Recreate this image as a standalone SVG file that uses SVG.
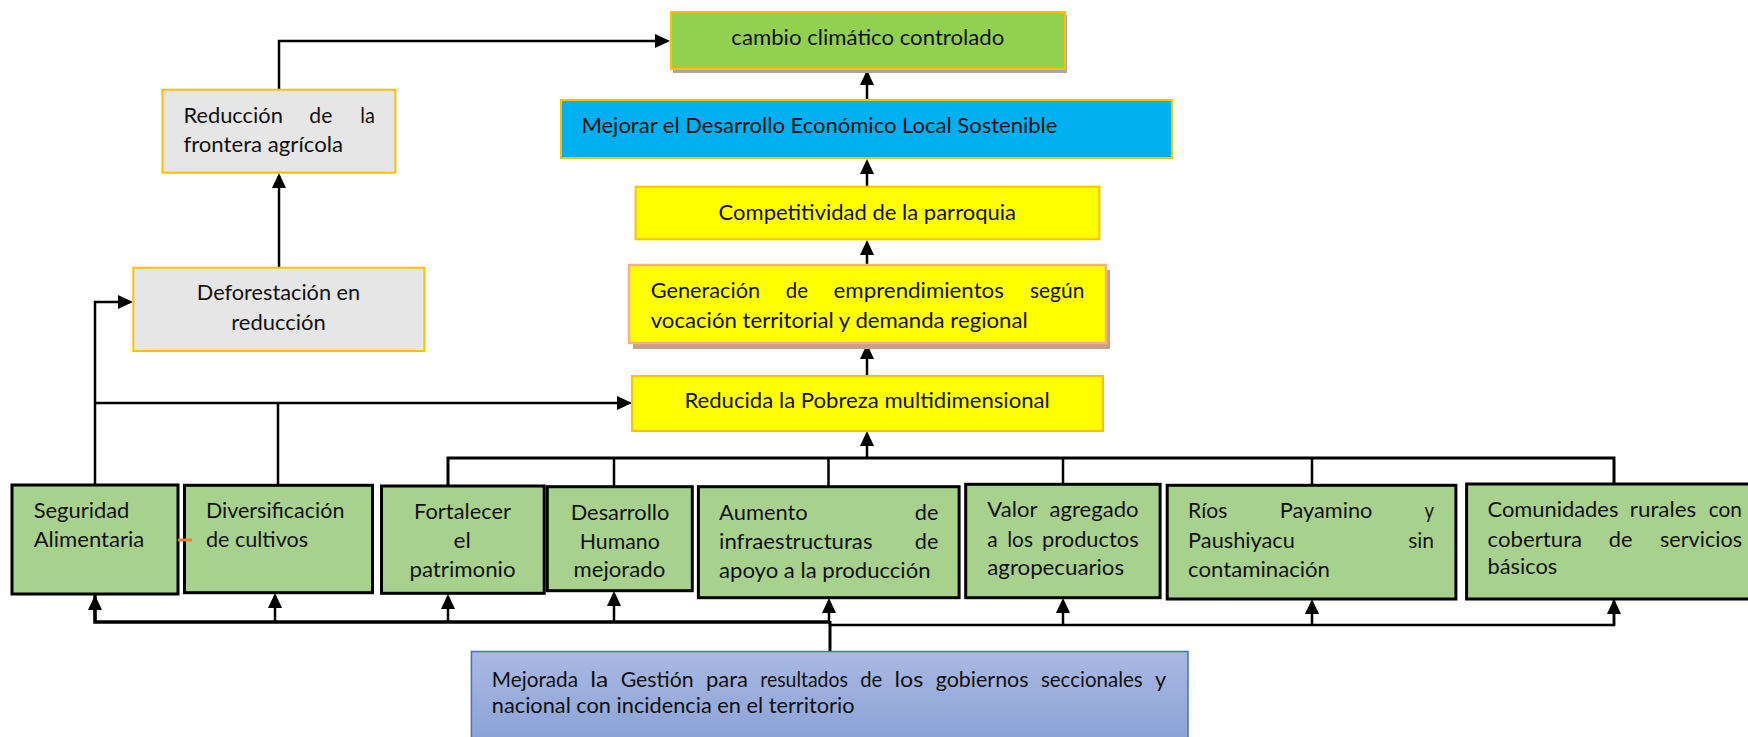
<svg xmlns="http://www.w3.org/2000/svg" width="1748" height="737" viewBox="0 0 1748 737">
<defs>
<marker id="ah" viewBox="0 0 15 14" refX="12" refY="7" markerWidth="15" markerHeight="14" markerUnits="userSpaceOnUse" orient="auto">
<path d="M0,0 L15,7 L0,14 z" fill="#000"/>
</marker>
<linearGradient id="blueg" x1="0" y1="0" x2="0" y2="1">
<stop offset="0" stop-color="#a9b9e2"/>
<stop offset="1" stop-color="#8ba2d6"/>
</linearGradient>
<style>
text{font-family:Lato,"Liberation Sans",sans-serif;font-size:22px;fill:#111;}
.gold{stroke:#ffc000;stroke-width:2;}
.grey{fill:#e7e6e6;}
.yel{fill:#ffff00;}
.grn{fill:#a9d18e;stroke:#000;stroke-width:3;}
.c{fill:none;stroke:#000;stroke-width:2.5;}
.ca{fill:none;stroke:#000;stroke-width:2.5;marker-end:url(#ah);}
</style>
</defs>
<rect width="1748" height="737" fill="#fff"/>

<g id="connectors">
<path class="ca" d="M279,90 V41 H667"/>
<path class="ca" d="M279,268 V176"/>
<path class="ca" d="M95,485 V302 H130"/>
<path class="ca" d="M95,403 H629"/>
<path class="c" d="M278,485 V403"/>
<path class="ca" d="M867,100 V73"/>
<path class="ca" d="M867,187 V162"/>
<path class="ca" d="M867,265 V243"/>
<path class="ca" d="M867,376 V347"/>
<path class="c" style="stroke-width:3" d="M448,486 V458 H1614 V484"/>
<path class="c" d="M614,458 V487"/>
<path class="c" d="M828.5,458 V487"/>
<path class="c" d="M1063,458 V484"/>
<path class="c" d="M1312,458 V485"/>
<path class="ca" d="M867,458 V434"/>
<path class="c" style="stroke-width:3.5" d="M95,595 V622 H830"/>
<path class="c" d="M830,625 H1614 V600"/>
<path class="c" style="stroke-width:3" d="M830,652 V621"/>
<path class="ca" d="M95,622 V598"/>
<path class="ca" d="M275,622 V596"/>
<path class="ca" d="M448,622 V597"/>
<path class="ca" d="M614,622 V594"/>
<path class="ca" d="M829,622 V601"/>
<path class="ca" d="M1063,625 V601"/>
<path class="ca" d="M1312,625 V602"/>
<path class="ca" d="M1614,625 V602"/>
</g>

<g id="cambio">
<rect x="673" y="15" width="394" height="58" fill="#a6a6a6"/>
<rect x="671" y="12" width="394" height="57" fill="#92d050" class="gold"/>
<text x="731.3" y="45" textLength="273" lengthAdjust="spacingAndGlyphs">cambio climático controlado</text>
</g>

<g id="mejorar">
<rect x="561" y="100" width="611" height="58" fill="#00b0f0" class="gold"/>
<text x="581.4" y="133.3" textLength="476" lengthAdjust="spacingAndGlyphs">Mejorar el Desarrollo Económico Local Sostenible</text>
</g>

<g id="competitividad">
<rect x="635.6" y="186.7" width="463.8" height="52.6" class="yel gold"/>
<text x="718.6" y="220" textLength="297.4" lengthAdjust="spacingAndGlyphs">Competitividad de la parroquia</text>
</g>

<g id="generacion">
<rect x="633" y="270" width="477" height="79" fill="#c8a089"/>
<rect x="629" y="265" width="477" height="78" class="yel" stroke="#f4b183" stroke-width="2.5"/>
<text x="650.7" y="298.3" textLength="109.4" lengthAdjust="spacingAndGlyphs">Generación</text>
<text x="785.8" y="298.3" textLength="22.2" lengthAdjust="spacingAndGlyphs">de</text>
<text x="833.6" y="298.3" textLength="170.3" lengthAdjust="spacingAndGlyphs">emprendimientos</text>
<text x="1030" y="298.3" textLength="54.3" lengthAdjust="spacingAndGlyphs">según</text>
<text x="650.7" y="328.3" textLength="377" lengthAdjust="spacingAndGlyphs">vocación territorial y demanda regional</text>
</g>

<g id="reducida">
<rect x="632" y="376" width="471" height="55" class="yel gold"/>
<text x="684.4" y="408.3" textLength="365.4" lengthAdjust="spacingAndGlyphs">Reducida la Pobreza multidimensional</text>
</g>

<g id="reduccion">
<rect x="162.4" y="89.7" width="233" height="83" class="grey gold"/>
<text x="183.4" y="123.3" textLength="99.5" lengthAdjust="spacingAndGlyphs">Reducción</text>
<text x="309.3" y="123.3" textLength="23" lengthAdjust="spacingAndGlyphs">de</text>
<text x="360.2" y="123.3" textLength="14.6" lengthAdjust="spacingAndGlyphs">la</text>
<text x="183.4" y="151.7" textLength="159.6" lengthAdjust="spacingAndGlyphs">frontera agrícola</text>
</g>

<g id="deforestacion">
<rect x="133.3" y="267.7" width="291" height="83.3" class="grey gold"/>
<text x="196.8" y="300" textLength="163.4" lengthAdjust="spacingAndGlyphs">Deforestación en</text>
<text x="231.3" y="330" textLength="94.5" lengthAdjust="spacingAndGlyphs">reducción</text>
</g>

<g id="seguridad">
<rect x="12" y="485" width="166" height="109" class="grn"/>
<text x="33.7" y="518.3" textLength="95.7" lengthAdjust="spacingAndGlyphs">Seguridad</text>
<text x="33.7" y="547.3" textLength="110.6" lengthAdjust="spacingAndGlyphs">Alimentaria</text>
</g>

<g id="diversificacion">
<rect x="184.5" y="485.3" width="188" height="107.4" class="grn"/>
<text x="205.9" y="518.3" textLength="138.5" lengthAdjust="spacingAndGlyphs">Diversificación</text>
<text x="205.9" y="547.3" textLength="102.2" lengthAdjust="spacingAndGlyphs">de cultivos</text>
</g>

<g id="fortalecer">
<rect x="381.5" y="486" width="162.7" height="107.3" class="grn"/>
<text x="414.1" y="519.3" textLength="96.8" lengthAdjust="spacingAndGlyphs">Fortalecer</text>
<text x="453.5" y="548.3" textLength="17.2" lengthAdjust="spacingAndGlyphs">el</text>
<text x="409.5" y="577.3" textLength="106" lengthAdjust="spacingAndGlyphs">patrimonio</text>
</g>

<g id="desarrollo">
<rect x="547.3" y="486.7" width="145" height="104" class="grn"/>
<text x="570.7" y="520" textLength="98.7" lengthAdjust="spacingAndGlyphs">Desarrollo</text>
<text x="579.8" y="549.3" textLength="80" lengthAdjust="spacingAndGlyphs">Humano</text>
<text x="573.6" y="577.3" textLength="91.6" lengthAdjust="spacingAndGlyphs">mejorado</text>
</g>

<g id="aumento">
<rect x="698.4" y="486.7" width="260.7" height="111" class="grn"/>
<text x="719.1" y="520" textLength="88.7" lengthAdjust="spacingAndGlyphs">Aumento</text>
<text x="914.8" y="520" textLength="23.6" lengthAdjust="spacingAndGlyphs">de</text>
<text x="719.1" y="549.3" textLength="153.4" lengthAdjust="spacingAndGlyphs">infraestructuras</text>
<text x="914.8" y="549.3" textLength="23.6" lengthAdjust="spacingAndGlyphs">de</text>
<text x="719.1" y="578" textLength="211.4" lengthAdjust="spacingAndGlyphs">apoyo a la producción</text>
</g>

<g id="valor">
<rect x="965.7" y="484.3" width="194.4" height="113.4" class="grn"/>
<text x="987.3" y="516.7" textLength="50.2" lengthAdjust="spacingAndGlyphs">Valor</text>
<text x="1049.5" y="516.7" textLength="89.1" lengthAdjust="spacingAndGlyphs">agregado</text>
<text x="987.3" y="546.7" textLength="10.4" lengthAdjust="spacingAndGlyphs">a</text>
<text x="1007.2" y="546.7" textLength="25.7" lengthAdjust="spacingAndGlyphs">los</text>
<text x="1042" y="546.7" textLength="96.6" lengthAdjust="spacingAndGlyphs">productos</text>
<text x="987.3" y="575" textLength="136.8" lengthAdjust="spacingAndGlyphs">agropecuarios</text>
</g>

<g id="rios">
<rect x="1167.2" y="485.3" width="288.7" height="113.7" class="grn"/>
<text x="1188.1" y="518.3" textLength="39.3" lengthAdjust="spacingAndGlyphs">Ríos</text>
<text x="1279.7" y="518.3" textLength="92.7" lengthAdjust="spacingAndGlyphs">Payamino</text>
<text x="1424.6" y="518.3" textLength="9.5" lengthAdjust="spacingAndGlyphs">y</text>
<text x="1188.1" y="548.3" textLength="106.8" lengthAdjust="spacingAndGlyphs">Paushiyacu</text>
<text x="1408.2" y="548.3" textLength="25.9" lengthAdjust="spacingAndGlyphs">sin</text>
<text x="1188.1" y="577.3" textLength="141.9" lengthAdjust="spacingAndGlyphs">contaminación</text>
</g>

<g id="comunidades">
<rect x="1466.6" y="484" width="300" height="115" class="grn"/>
<text x="1487.5" y="516.7" textLength="130.9" lengthAdjust="spacingAndGlyphs">Comunidades</text>
<text x="1629.8" y="516.7" textLength="66.4" lengthAdjust="spacingAndGlyphs">rurales</text>
<text x="1708.8" y="516.7" textLength="33.2" lengthAdjust="spacingAndGlyphs">con</text>
<text x="1487.5" y="546.7" textLength="94.6" lengthAdjust="spacingAndGlyphs">cobertura</text>
<text x="1608.8" y="546.7" textLength="23.7" lengthAdjust="spacingAndGlyphs">de</text>
<text x="1660" y="546.7" textLength="82" lengthAdjust="spacingAndGlyphs">servicios</text>
<text x="1487.5" y="574" textLength="69.8" lengthAdjust="spacingAndGlyphs">básicos</text>
</g>

<g id="mejorada">
<rect x="471.4" y="651.5" width="716.6" height="92" fill="url(#blueg)" stroke="#4472c4" stroke-width="1.5"/>
<text x="491.8" y="686.7" textLength="86.2" lengthAdjust="spacingAndGlyphs">Mejorada</text>
<text x="590.3" y="686.7" textLength="18.1" lengthAdjust="spacingAndGlyphs">la</text>
<text x="620.7" y="686.7" textLength="73" lengthAdjust="spacingAndGlyphs">Gestión</text>
<text x="706" y="686.7" textLength="42" lengthAdjust="spacingAndGlyphs">para</text>
<text x="760.3" y="686.7" textLength="87.6" lengthAdjust="spacingAndGlyphs">resultados</text>
<text x="860.2" y="686.7" textLength="22.1" lengthAdjust="spacingAndGlyphs">de</text>
<text x="894.6" y="686.7" textLength="28.8" lengthAdjust="spacingAndGlyphs">los</text>
<text x="935.7" y="686.7" textLength="92.9" lengthAdjust="spacingAndGlyphs">gobiernos</text>
<text x="1040.9" y="686.7" textLength="101.8" lengthAdjust="spacingAndGlyphs">seccionales</text>
<text x="1155" y="686.7" textLength="11.1" lengthAdjust="spacingAndGlyphs">y</text>
<text x="491.8" y="713.3" textLength="362.7" lengthAdjust="spacingAndGlyphs">nacional con incidencia en el territorio</text>
</g>

<line x1="178" y1="540" x2="192" y2="540" stroke="#ed7d31" stroke-width="3"/>
</svg>
